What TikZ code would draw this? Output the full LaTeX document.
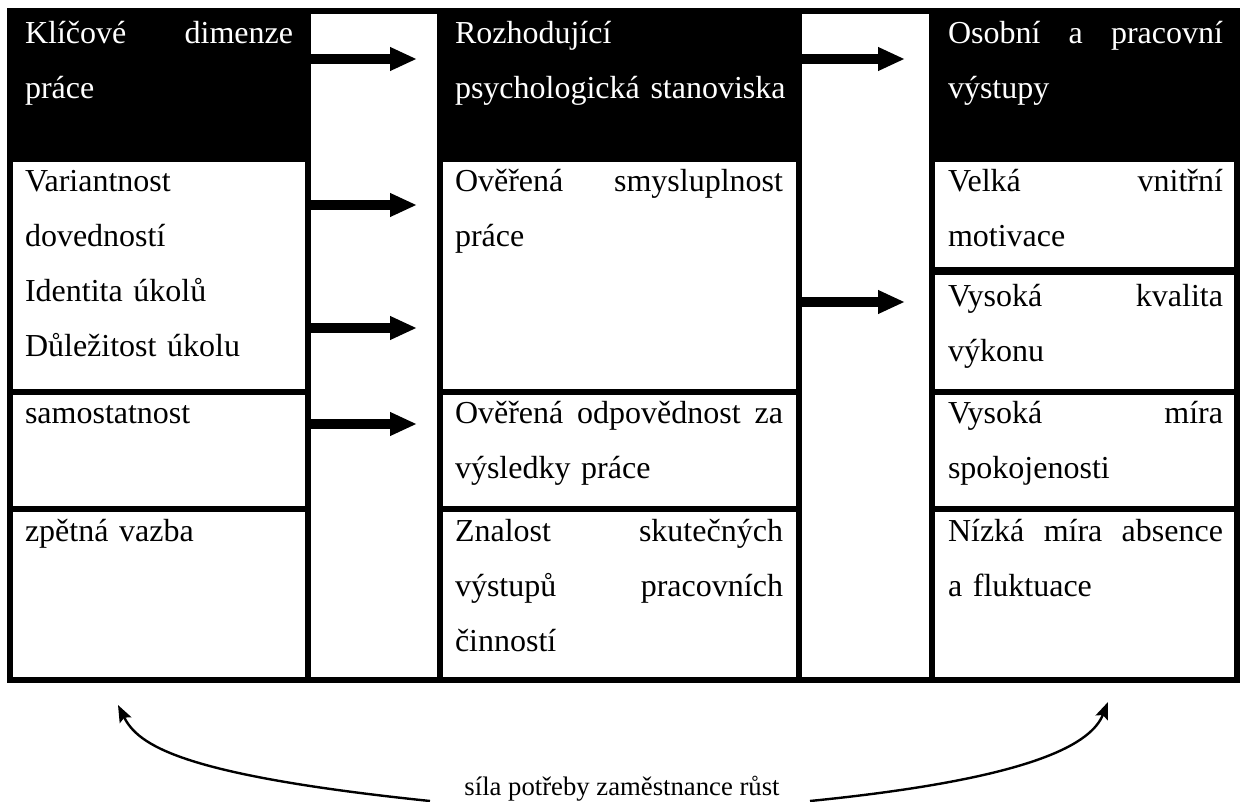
\documentclass[tikz,border=0pt]{standalone}
\usepackage{fontspec}
\setmainfont{Liberation Serif}
\usetikzlibrary{arrows.meta}
\newcommand{\jl}[2]{\leavevmode\hbox to #1pt{\spaceskip=8pt plus 1fil\relax #2}}
\begin{document}
\begin{tikzpicture}[x=1pt,y=-1pt,
  grid/.style={line width=6pt},
  cell/.style={anchor=north west, inner sep=0pt, outer sep=0pt, align=left, text width=345pt, font={\fontsize{32}{55}\selectfont}},
  headcell/.style={cell, text=white},
  bigarrow/.style={line width=10pt, -{Triangle[length=27pt,width=22pt]}},
  curvearrow/.style={line width=2.4pt, -{Stealth[length=17pt,width=13pt,inset=3pt]}},
  caption/.style={font={\fontsize{26.7}{30}\selectfont}, anchor=base, inner sep=0pt}
]
\useasboundingbox (0,0) rectangle (1240,802);
\fill[white] (0,0) rectangle (1240,802);
% header fills
\fill[black] (7,8) rectangle (311,162);
\fill[black] (437,8) rectangle (802,162);
\fill[black] (929,8) rectangle (1240,162);
% frame and grid
\draw[grid] (10,11) rectangle (1237,680);
\draw[grid] (308,11) -- (308,680);
\draw[grid] (440,11) -- (440,680);
\draw[grid] (799,11) -- (799,680);
\draw[grid] (932,11) -- (932,680);
\draw[grid] (10,392) -- (308,392);
\draw[grid] (10,509) -- (308,509);
\draw[grid] (440,392) -- (799,392);
\draw[grid] (440,509) -- (799,509);
\draw[grid] (932,392) -- (1237,392);
\draw[grid] (932,509) -- (1237,509);
\draw[line width=8pt] (932,271) -- (1237,271);
% header texts
\node[headcell] (h1) at (25,5.5) {\strut\jl{268}{Klíčové dimenze}\\práce};
\node[headcell] (h2) at (455,5.5) {\strut Rozhodující\\psychologická stanoviska};
\node[headcell] (h3) at (948,5.5) {\strut\jl{275}{Osobní a pracovní}\\výstupy};
% row texts
\node[cell] (k1) at (25,153.5) {\strut Variantnost\\dovedností\\Identita úkolů\\Důležitost úkolu};
\node[cell] (p1) at (455,153.5) {\strut\jl{328}{Ověřená smysluplnost}\\práce};
\node[cell] (o1) at (948,153.5) {\strut\jl{275}{Velká vnitřní}\\motivace};
\node[cell] (o2) at (948,268.5) {\strut\jl{275}{Vysoká kvalita}\\výkonu};
\node[cell] (k2) at (25,384.5) {\strut samostatnost};
\node[cell] (p2) at (455,384.5) {\strut\jl{328}{Ověřená odpovědnost za}\\výsledky práce};
\node[cell] (o3) at (948,384.5) {\strut\jl{275}{Vysoká míra}\\spokojenosti};
\node[cell] (k3) at (25,502.5) {\strut zpětná vazba};
\node[cell] (p3) at (455,502.5) {\strut\jl{328}{Znalost skutečných}\\\jl{328}{výstupů pracovních}\\činností};
\node[cell] (o4) at (948,502.5) {\strut\jl{275}{Nízká míra absence}\\a fluktuace};
% thick arrows
\coordinate (a1s) at (306,59);  \coordinate (a1e) at (417,59);
\coordinate (a2s) at (797,59);  \coordinate (a2e) at (905,59);
\coordinate (a3s) at (306,205); \coordinate (a3e) at (417,205);
\coordinate (a4s) at (306,328); \coordinate (a4e) at (417,328);
\coordinate (a5s) at (306,424); \coordinate (a5e) at (417,424);
\coordinate (a6s) at (797,302); \coordinate (a6e) at (905,302);
\draw[bigarrow] (a1s) -- (a1e);
\draw[bigarrow] (a2s) -- (a2e);
\draw[bigarrow] (a3s) -- (a3e);
\draw[bigarrow] (a4s) -- (a4e);
\draw[bigarrow] (a5s) -- (a5e);
\draw[bigarrow] (a6s) -- (a6e);
% caption and curved arrows
\node[caption] (cap) at (622,795) {síla potřeby zaměstnance růst};
\coordinate (l0) at (430,801); \coordinate (l1) at (118,705);
\coordinate (r0) at (810,801); \coordinate (r1) at (1108,702);
\draw[curvearrow] (l0) .. controls (180,775) and (138,745) .. (l1);
\draw[curvearrow] (r0) .. controls (1040,778) and (1092,742) .. (r1);
\end{tikzpicture}
\end{document}
